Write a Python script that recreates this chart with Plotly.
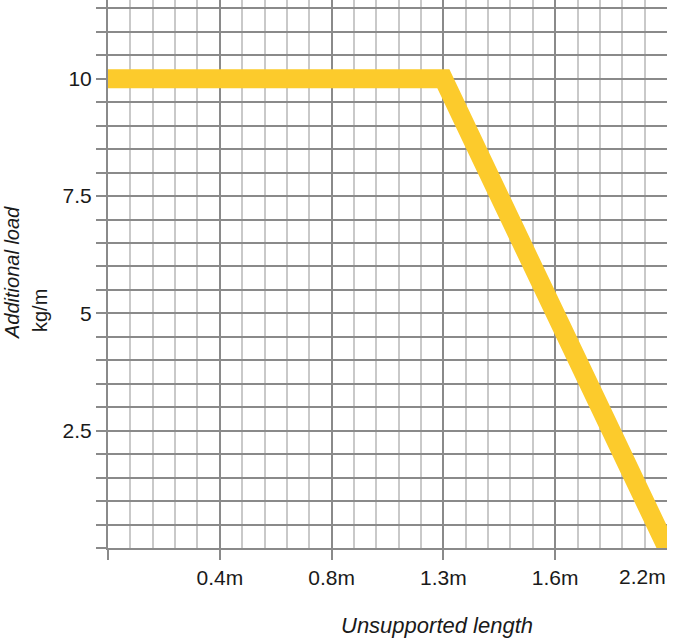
import plotly.graph_objects as go

# ---- data ----
length_labels = ["", "0.4m", "0.8m", "1.3m", "1.6m", "2.2m"]
additional_load = [10, 10, 10, 10, 5, 0]
y_tick_values = [2.5, 5, 7.5, 10]
y_tick_labels = ["2.5", "5", "7.5", "10"]

x_pos = list(range(len(length_labels)))

DARK = "#8a8a8a"
LIGHT = "#c9c9c9"
FONT = "Liberation Sans, Arial, sans-serif"
TXT = "#1a1a1a"

fig = go.Figure()
fig.add_trace(go.Scatter(
    x=x_pos, y=additional_load, mode="lines",
    line=dict(color="#FCCB2C", width=19),
    cliponaxis=False, hoverinfo="skip", showlegend=False,
))

fig.update_layout(
    width=676, height=640,
    margin=dict(l=108, r=9, t=0, b=92),
    paper_bgcolor="white", plot_bgcolor="white",
    font=dict(family=FONT, size=21, color=TXT),
    showlegend=False,
    xaxis=dict(
        range=[0, 5],
        tickmode="array", tickvals=x_pos[:-1], ticktext=length_labels[:-1],
        ticks="outside", ticklen=10, tickwidth=2, tickcolor=DARK,
        showgrid=True, gridcolor=DARK, gridwidth=2,
        showline=True, linecolor=DARK, linewidth=2, mirror=False,
        zeroline=False,
        minor=dict(tickmode="linear", tick0=0, dtick=0.2, showgrid=True,
                   gridcolor=LIGHT, gridwidth=2, ticks=""),
        tickfont=dict(size=21, color=TXT),
        layer="below traces",
        automargin=False,
    ),
    yaxis=dict(
        range=[0, 11.68],
        tickmode="array", tickvals=y_tick_values, ticktext=y_tick_labels,
        ticks="outside", ticklen=10, tickwidth=2, tickcolor=DARK,
        showgrid=True, gridcolor=DARK, gridwidth=2,
        showline=True, linecolor=DARK, linewidth=2,
        zeroline=False,
        minor=dict(tickmode="linear", tick0=0, dtick=0.5, showgrid=True,
                   gridcolor=DARK, gridwidth=2, ticks="outside",
                   ticklen=10, tickwidth=2, tickcolor=DARK),
        tickfont=dict(size=21, color=TXT),
        layer="below traces",
        automargin=False,
    ),
)

# last x tick label, kept inside the canvas (right-aligned to its tick)
fig.add_annotation(
    x=x_pos[-1], xref="x", y=-0.0265, yref="paper",
    text=length_labels[-1], showarrow=False,
    xanchor="right", yanchor="top",
    font=dict(size=21, color=TXT), xshift=1,
)

# axis titles
fig.add_annotation(
    x=(437 - 108) / 559, xref="paper", y=(548 - 625) / 548, yref="paper",
    text="<i>Unsupported length</i>", showarrow=False, borderpad=0,
    xanchor="center", yanchor="middle", font=dict(size=22, color=TXT),
)
fig.add_annotation(
    x=(12 - 108) / 559, xref="paper", y=(548 - 273) / 548, yref="paper",
    text="<i>Additional load</i>", showarrow=False, textangle=-90, borderpad=0,
    xanchor="center", yanchor="middle", font=dict(size=20, color=TXT),
)
fig.add_annotation(
    x=(40 - 108) / 559, xref="paper", y=(548 - 311) / 548, yref="paper",
    text="kg/m", showarrow=False, textangle=-90,
    xanchor="center", yanchor="middle", font=dict(size=20, color=TXT),
)

fig.write_html("out.html", config={"displayModeBar": False},
               post_script="document.body.style.margin='0';")
